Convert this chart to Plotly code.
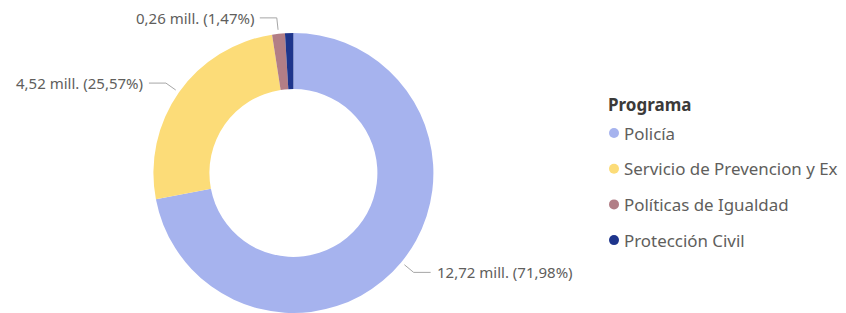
import math
import plotly.graph_objects as go

categories = ["Policía", "Servicio de Prevencion y Extinción de Incendios", "Políticas de Igualdad", "Protección Civil"]
legend_text = ["Policía", "Servicio de Prevencion y Ex", "Políticas de Igualdad", "Protección Civil"]
values = [12.72, 4.52, 0.26, 0.17]
percent_labels = ["71,98%", "25,57%", "1,47%", "0,98%"]
value_labels = ["12,72 mill.", "4,52 mill.", "0,26 mill.", "0,17 mill."]
show_label = [True, True, True, False]
colors = ["#A6B3EE", "#FCDC78", "#B27E86", "#1E358C"]
legend_title = "Programa"

# the page body has an 8px margin; figure fills the rest of the window
OFF = 8
W, H = 846 - OFF, 313 - OFF
cx_px, r_px = 293.4 - OFF, 140.0
dom_x = [(cx_px - r_px) / W, (cx_px + r_px) / W]
dom_y = [0.0, 2 * r_px / H]
cy_px = H - r_px

FONT = "Noto Sans, Open Sans, sans-serif"

fig = go.Figure()
fig.add_trace(go.Pie(
    labels=categories, values=values, hole=0.6, sort=False,
    direction="clockwise", rotation=0,
    marker=dict(colors=colors, line=dict(width=0)),
    textinfo="none", showlegend=False, domain=dict(x=dom_x, y=dom_y),
    hoverinfo="label+value+percent",
))


def px2p(x, y):
    return x / W, 1 - y / H


total = sum(values)
cum = 0.0
shapes, annotations = [], []
for v, vl, pl, show in zip(values, value_labels, percent_labels, show_label):
    mid = (cum + v / 2) / total * 2 * math.pi
    cum += v
    if not show:
        continue
    sx, sy = math.sin(mid), -math.cos(mid)
    x0, y0 = cx_px + sx * (r_px + 4), cy_px + sy * (r_px + 4)
    x1, y1 = cx_px + sx * (r_px + 16), cy_px + sy * (r_px + 16)
    side = 1 if sx >= 0 else -1
    x2 = x1 + side * 17
    p0, p1, p2 = px2p(x0, y0), px2p(x1, y1), px2p(x2, y1)
    shapes.append(dict(type="path", xref="paper", yref="paper",
                       path=f"M {p0[0]} {p0[1]} L {p1[0]} {p1[1]} L {p2[0]} {p2[1]}",
                       line=dict(color="#A6A6A6", width=1)))
    tx = px2p(x2 + side * 4, y1)
    annotations.append(dict(x=tx[0], y=tx[1], xref="paper", yref="paper",
                            text=f"{vl} ({pl})", showarrow=False,
                            xanchor="left" if side > 0 else "right", yanchor="middle",
                            font=dict(family=FONT, size=15, color="#605E5C")))

# legend drawn as text + circle markers (window px coords, shifted by body margin)
lx, ly0, lgap = 607 - OFF, 133 - OFF, 35.7
tp = px2p(lx - 1, 104 - OFF)
annotations.append(dict(x=tp[0], y=tp[1], xref="paper", yref="paper",
                        text=f"<b>{legend_title}</b>", showarrow=False,
                        xanchor="left", yanchor="middle",
                        font=dict(family=FONT, size=17, color="#3B3A39")))
for i, (name, col) in enumerate(zip(legend_text, colors)):
    yy = ly0 + i * lgap
    mx = lx + 7
    a, b = px2p(mx - 5, yy - 5), px2p(mx + 5, yy + 5)
    shapes.append(dict(type="circle", xref="paper", yref="paper",
                       x0=a[0], x1=b[0], y0=a[1], y1=b[1],
                       fillcolor=col, line=dict(width=0)))
    t = px2p(lx + 15, yy)
    annotations.append(dict(x=t[0], y=t[1], xref="paper", yref="paper",
                            text=name, showarrow=False,
                            xanchor="left", yanchor="middle",
                            font=dict(family=FONT, size=16.9, color="#605E5C")))

fig.update_layout(
    width=W, height=H, margin=dict(l=0, r=0, t=0, b=0),
    paper_bgcolor="white", plot_bgcolor="white",
    font=dict(family=FONT, color="#605E5C"),
    shapes=shapes, annotations=annotations, showlegend=False,
)

fig.write_html("out.html")
